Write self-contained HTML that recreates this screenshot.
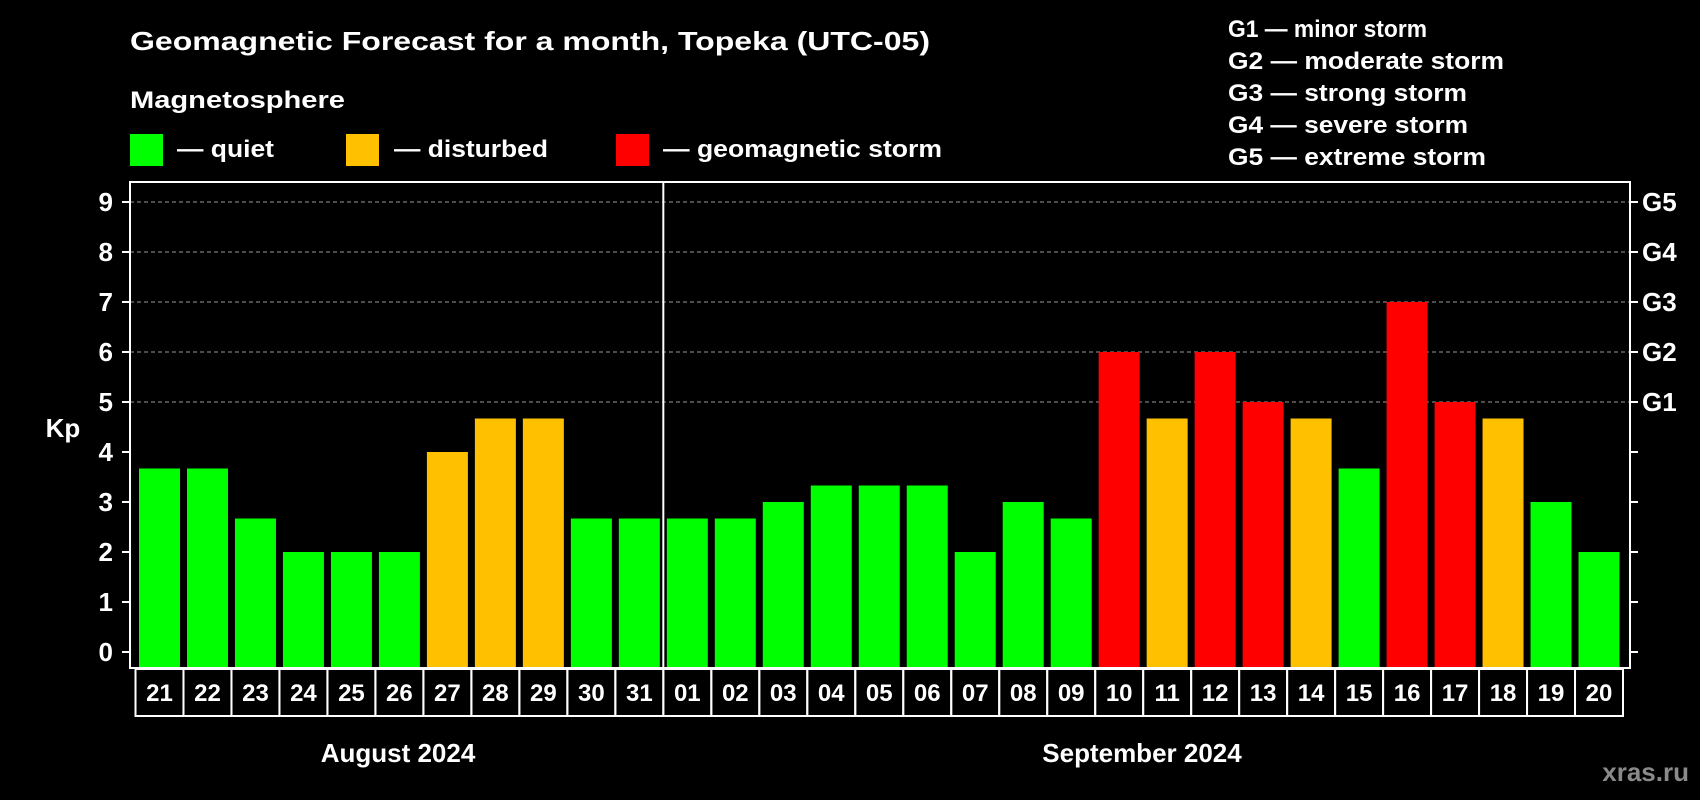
<!DOCTYPE html>
<html><head><meta charset="utf-8"><style>
html,body{margin:0;padding:0;background:#000;}
svg{display:block;font-family:"Liberation Sans",Arial,sans-serif;font-weight:bold;}
</style></head><body>
<svg id="chart" width="1700" height="800" viewBox="0 0 1700 800" xmlns="http://www.w3.org/2000/svg">
<rect width="1700" height="800" fill="#000"/>
<text x="130" y="50" fill="#fff" font-size="26" textLength="800" lengthAdjust="spacingAndGlyphs">Geomagnetic Forecast for a month, Topeka (UTC-05)</text>
<text x="130" y="108" fill="#fff" font-size="24" textLength="215" lengthAdjust="spacingAndGlyphs">Magnetosphere</text>
<g>
<rect x="130" y="134" width="33" height="32" fill="#00ff00"/>
<text x="177" y="157" fill="#fff" font-size="24" textLength="97" lengthAdjust="spacingAndGlyphs">— quiet</text></g>
<g>
<rect x="346" y="134" width="33" height="32" fill="#ffc000"/>
<text x="394" y="157" fill="#fff" font-size="24" textLength="154" lengthAdjust="spacingAndGlyphs">— disturbed</text></g>
<g>
<rect x="616" y="134" width="33" height="32" fill="#ff0000"/>
<text x="663" y="157" fill="#fff" font-size="24" textLength="279" lengthAdjust="spacingAndGlyphs">— geomagnetic storm</text></g>
<g fill="#fff" font-size="24">
<text x="1228" y="37" textLength="199" lengthAdjust="spacingAndGlyphs">G1 — minor storm</text>
<text x="1228" y="69" textLength="276" lengthAdjust="spacingAndGlyphs">G2 — moderate storm</text>
<text x="1228" y="101" textLength="239" lengthAdjust="spacingAndGlyphs">G3 — strong storm</text>
<text x="1228" y="133" textLength="240" lengthAdjust="spacingAndGlyphs">G4 — severe storm</text>
<text x="1228" y="165" textLength="258" lengthAdjust="spacingAndGlyphs">G5 — extreme storm</text>
</g>
<text x="63" y="437" fill="#fff" font-size="26" text-anchor="middle">Kp</text>
<g id="grid"></g>
<g id="bars"></g>
<g id="axes"></g>
<text x="398" y="762" fill="#fff" font-size="26" text-anchor="middle">August 2024</text>
<text x="1142" y="762" fill="#fff" font-size="26" text-anchor="middle">September 2024</text>
<text x="1689" y="781" fill="#8a8a8a" font-size="26" text-anchor="end">xras.ru</text>
</svg>
<script>
const days = ["21","22","23","24","25","26","27","28","29","30","31","01","02","03","04","05","06","07","08","09","10","11","12","13","14","15","16","17","18","19","20"];
const kpValues = [3.67,3.67,2.67,2,2,2,4,4.67,4.67,2.67,2.67,2.67,2.67,3,3.33,3.33,3.33,2,3,2.67,6,4.67,6,5,4.67,3.67,7,5,4.67,3,2];
const yTicks = [0,1,2,3,4,5,6,7,8,9];
const gLabels = ["G1","G2","G3","G4","G5"];
const gLevels = [5,6,7,8,9];
const monthSplit = 11;

const NS="http://www.w3.org/2000/svg";
const plotL=130, plotR=1630, plotT=182, plotB=668, x0=135.5, pitch=(1623-135.5)/days.length;
const y=v=>652-v*50;
const x=i=>x0+i*pitch;
function mk(tag,attrs,parent){const e=document.createElementNS(NS,tag);for(const k in attrs)e.setAttribute(k,attrs[k]);parent.appendChild(e);return e;}
const grid=document.getElementById('grid'), bars=document.getElementById('bars'), axes=document.getElementById('axes');
gLevels.forEach(v=>{
  const l=mk('line',{x1:plotL,x2:plotR,y1:y(v),y2:y(v),stroke:'#999','stroke-width':1,'stroke-dasharray':'4 3'},grid);
  
  
});
kpValues.forEach((v,i)=>{
  const c=v>=5?'#ff0000':(v>=4?'#ffc000':'#00ff00');
  const r=mk('rect',{x:x(i)+3.5,y:y(v),width:pitch-7,height:plotB-y(v),fill:c},bars);
  
  
});
const frame=mk('rect',{x:plotL,y:plotT,width:plotR-plotL,height:plotB-plotT,fill:'none',stroke:'#fff','stroke-width':2},axes);


const div=mk('line',{x1:x(monthSplit),x2:x(monthSplit),y1:plotT,y2:plotB,stroke:'#fff','stroke-width':2},axes);


yTicks.forEach(v=>{
  const t=mk('line',{x1:122,x2:plotL,y1:y(v),y2:y(v),stroke:'#fff','stroke-width':2},axes);
  
  
  const t2=mk('line',{x1:plotR,x2:plotR+8,y1:y(v),y2:y(v),stroke:'#fff','stroke-width':2},axes);
  
  
  const tx=mk('text',{x:113,y:y(v)+9,fill:'#fff','font-size':26,'text-anchor':'end'},axes);
  tx.textContent=v;
  
  
});
gLabels.forEach((g,i)=>{
  const tx=mk('text',{x:1642,y:y(gLevels[i])+9,fill:'#fff','font-size':26},axes);
  tx.textContent=g;
  
  
});
days.forEach((d,i)=>{
  const b=mk('rect',{x:x(i),y:669,width:pitch,height:47,fill:'none',stroke:'#fff','stroke-width':2},axes);
  
  
  const tx=mk('text',{x:x(i)+pitch/2,y:701,fill:'#fff','font-size':24,'text-anchor':'middle'},axes);
  tx.textContent=d;
  
  
});
</script>
</body></html>
